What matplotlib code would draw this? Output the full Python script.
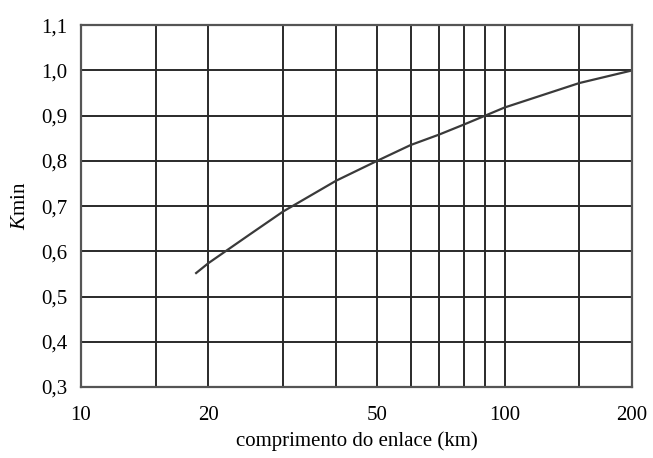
import matplotlib.pyplot as plt
from matplotlib.ticker import FixedLocator, NullFormatter

plt.rcParams['font.family'] = ['Liberation Serif', 'DejaVu Serif']
plt.rcParams['mathtext.fontset'] = 'custom'
plt.rcParams['mathtext.rm'] = 'Liberation Serif'
plt.rcParams['mathtext.it'] = 'Liberation Serif:italic'

# curva Kmin x comprimento do enlace
comprimento = [18.7, 20, 25, 30, 40, 50, 60, 70, 80, 90, 100, 150, 200]
kmin = [0.552, 0.574, 0.637, 0.688, 0.756, 0.800, 0.835, 0.858, 0.880, 0.900, 0.918, 0.972, 1.000]

xticks_label = [10, 20, 50, 100, 200]
xgrid_menor = [15, 30, 40, 60, 70, 80, 90, 150]
yticks = [0.3, 0.4, 0.5, 0.6, 0.7, 0.8, 0.9, 1.0, 1.1]

fig = plt.figure(figsize=(6.53, 4.58), dpi=100)
ax = fig.add_axes([0.124, 0.155, 0.844, 0.79])

ax.plot(comprimento, kmin, color='#3a3a3a', linewidth=1.6)

ax.set_xscale('log')
ax.set_xlim(10, 200)
ax.set_ylim(0.3, 1.1)

ax.xaxis.set_major_locator(FixedLocator(xticks_label))
ax.set_xticklabels([str(v) for v in xticks_label])
ax.xaxis.set_minor_locator(FixedLocator(xgrid_menor))
ax.xaxis.set_minor_formatter(NullFormatter())
ax.set_yticks(yticks)
ax.set_yticklabels([f"{v:.1f}".replace('.', ',') for v in yticks])

ax.grid(True, which='both', color='#2a2a2a', linewidth=1.4)
ax.tick_params(which='both', length=0, labelsize=15, pad=10)
ax.tick_params(axis='x', pad=14)
for s in ax.spines.values():
    s.set_color('#555555')
    s.set_linewidth(1.6)

ax.set_xlabel("comprimento do enlace (km)", fontsize=15, labelpad=4)
ax.set_ylabel("$\\mathit{K}$min", fontsize=15, labelpad=8)

fig.savefig("out.png", dpi=100)
